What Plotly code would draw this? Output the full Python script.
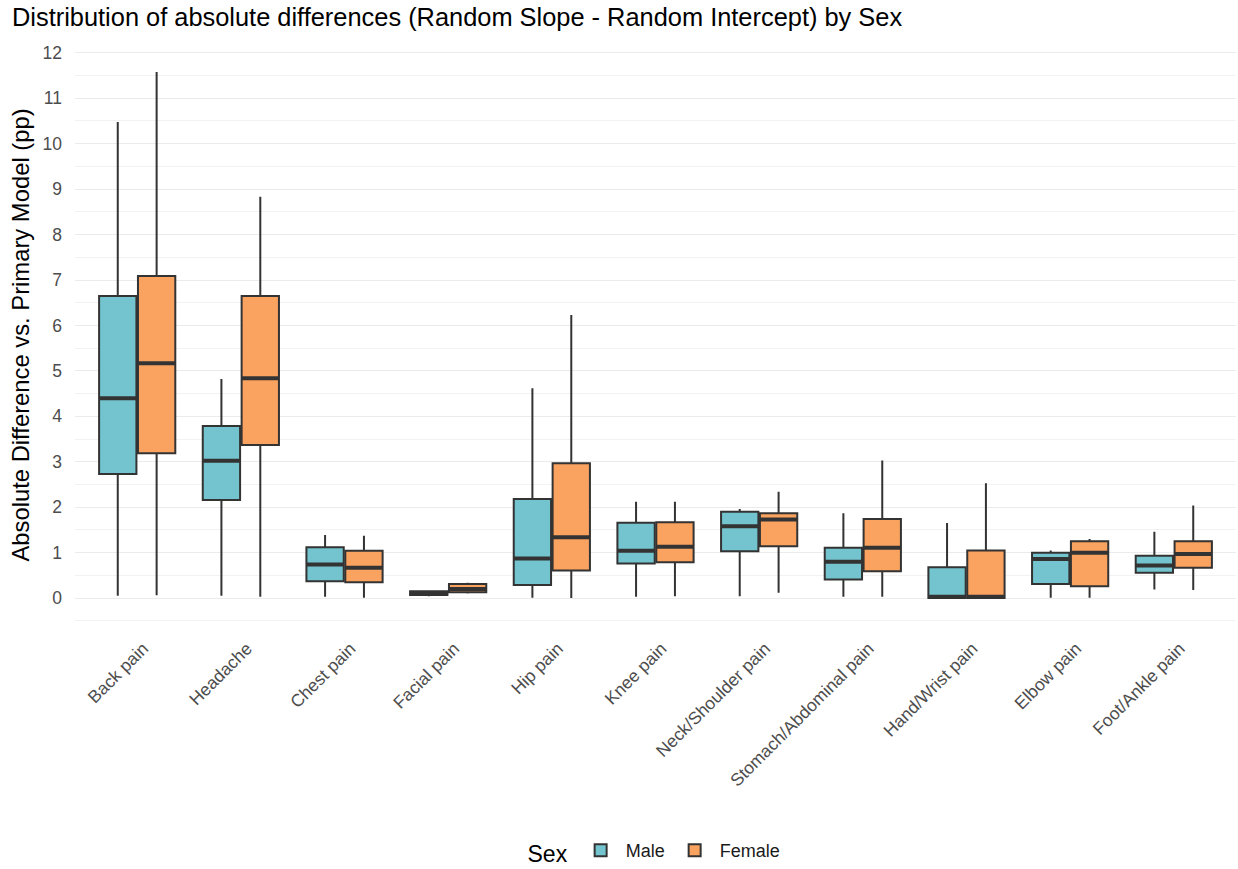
import plotly.graph_objects as go

# Pain sites along the x axis
categories = [
    "Back pain", "Headache", "Chest pain", "Facial pain", "Hip pain",
    "Knee pain", "Neck/Shoulder pain", "Stomach/Abdominal pain",
    "Hand/Wrist pain", "Elbow pain", "Foot/Ankle pain",
]

# Box statistics (absolute difference, percentage points)
male_lower = [0.05, 0.05, 0.03, 0.04, 0.01, 0.03, 0.04, 0.03, 0.00, 0.01, 0.19]
male_q1 = [2.73, 2.16, 0.37, 0.07, 0.29, 0.76, 1.03, 0.41, 0.00, 0.31, 0.56]
male_median = [4.40, 3.02, 0.74, 0.11, 0.87, 1.04, 1.58, 0.80, 0.03, 0.86, 0.72]
male_q3 = [6.65, 3.79, 1.12, 0.15, 2.18, 1.66, 1.90, 1.11, 0.68, 1.00, 0.93]
male_upper = [10.48, 4.82, 1.39, 0.17, 4.62, 2.12, 1.96, 1.87, 1.65, 1.05, 1.46]

female_lower = [0.06, 0.03, 0.01, 0.10, 0.00, 0.04, 0.12, 0.03, 0.00, 0.01, 0.18]
female_q1 = [3.19, 3.37, 0.35, 0.13, 0.61, 0.79, 1.14, 0.59, 0.00, 0.26, 0.67]
female_median = [5.17, 4.84, 0.67, 0.20, 1.34, 1.13, 1.73, 1.11, 0.03, 1.00, 0.97]
female_q3 = [7.09, 6.65, 1.04, 0.31, 2.97, 1.67, 1.87, 1.74, 1.05, 1.25, 1.25]
female_upper = [11.58, 8.83, 1.37, 0.34, 6.23, 2.12, 2.34, 3.03, 2.53, 1.30, 2.04]

y_ticks = list(range(0, 13))

MALE_FILL = "#73C4CE"
FEMALE_FILL = "#FAA260"
EDGE = "#333333"
DODGE = 0.1875      # half of the dodge width
BOX_W = 0.36

idx = list(range(len(categories)))

series = [
    ("Male", -DODGE, MALE_FILL, male_lower, male_q1, male_median, male_q3, male_upper),
    ("Female", DODGE, FEMALE_FILL, female_lower, female_q1, female_median, female_q3, female_upper),
]

fig = go.Figure()

for name, off, fill, lo, q1, med, q3, hi in series:
    xs = [i + off for i in idx]
    fig.add_trace(go.Box(
        name=name,
        x=xs,
        lowerfence=lo, q1=q1, median=med, q3=q3, upperfence=hi,
        width=BOX_W,
        fillcolor=fill,
        line=dict(color=EDGE, width=2),
        whiskerwidth=0,
        boxpoints=False,
        showlegend=True,
        legendgroup=name,
    ))

# Heavier median bars drawn over each box
for name, off, fill, lo, q1, med, q3, hi in series:
    mx, my = [], []
    for i, m in zip(idx, med):
        c = i + off
        mx += [c - BOX_W / 2, c + BOX_W / 2, None]
        my += [m, m, None]
    fig.add_trace(go.Scatter(
        x=mx, y=my, mode="lines",
        line=dict(color=EDGE, width=4),
        showlegend=False, hoverinfo="skip", legendgroup=name,
    ))

fig.update_layout(
    width=1238, height=869,
    paper_bgcolor="white", plot_bgcolor="white",
    font=dict(family="Liberation Sans, Arial, sans-serif", color="#000000"),
    margin=dict(l=75, r=2, t=46, b=245),
    title=dict(
        text="Distribution of absolute differences (Random Slope - Random Intercept) by Sex",
        x=12 / 1238, xanchor="left", xref="container",
        y=1 - 17 / 869, yanchor="middle", yref="container",
        font=dict(size=25.4, color="#000000"),
    ),
    boxmode="overlay",
    legend=dict(
        orientation="h",
        x=0.5, xanchor="center", xref="paper",
        y=1 - 852 / 869, yanchor="middle", yref="container",
        title=dict(text="Sex", font=dict(size=23, color="#000000"), side="left"),
        font=dict(size=18, color="#1a1a1a"),
        itemwidth=40,
        traceorder="normal",
    ),
    showlegend=True,
)

fig.update_xaxes(
    range=[-0.6, len(categories) - 0.4],
    tickmode="array", tickvals=idx, ticktext=categories,
    tickangle=-45,
    tickfont=dict(size=17.5, color="#4d4d4d"),
    showgrid=False, zeroline=False, showline=False,
    ticks="", ticklen=0, automargin=False,
    ticklabelstandoff=10, ticklabelshift=6,
)

fig.update_yaxes(
    range=[-0.57, 12.15],
    tickmode="array", tickvals=y_ticks,
    ticktext=[str(v) for v in y_ticks],
    tickfont=dict(size=17.5, color="#4d4d4d"),
    showgrid=True, gridcolor="#EBEBEB", gridwidth=1.2,
    minor=dict(dtick=0.5, tick0=0, showgrid=True, gridcolor="#F2F2F2", gridwidth=1),
    zeroline=False, showline=False,
    ticks="", ticklabelstandoff=12, automargin=False,
    title=dict(text="Absolute Difference vs. Primary Model (pp)",
               font=dict(size=23.8, color="#000000"), standoff=6),
)

fig.write_html("out.html")
